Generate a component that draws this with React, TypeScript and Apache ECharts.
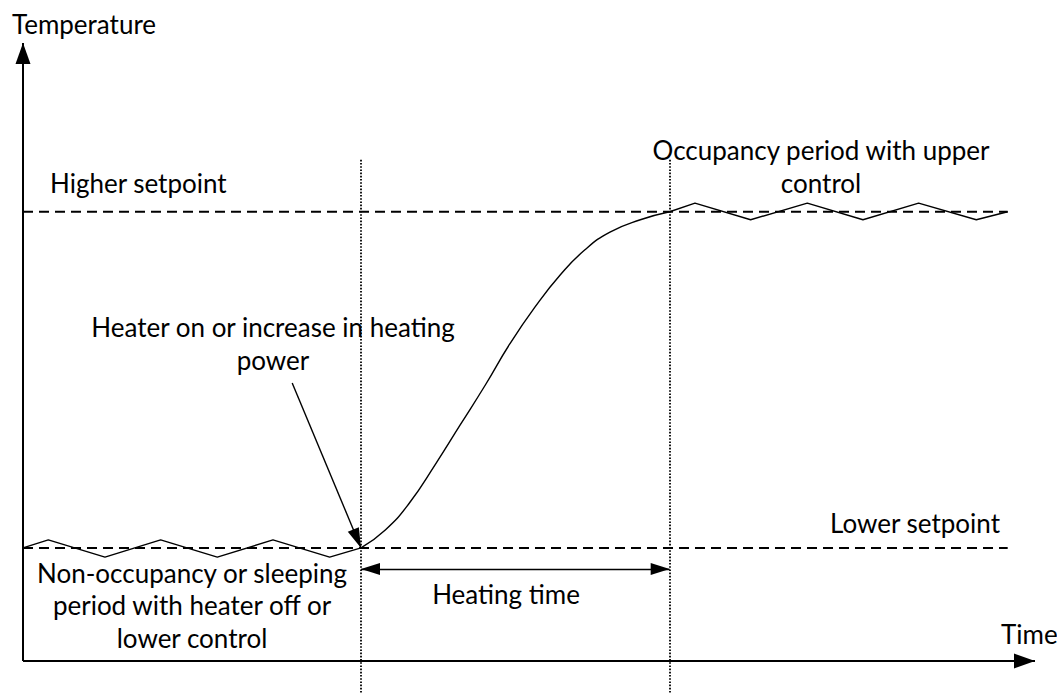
import React, { useEffect, useRef } from "react";
import * as echarts from "echarts";

// ---- data (time on x, temperature on y, arbitrary units 0..100) ----
const LOWER_SETPOINT = 18.3;
const HIGHER_SETPOINT = 72.7;
const HEAT_START = 33.4;
const HEAT_END = 63.9;
const SETPOINT_END = 97.3;

const lowZigTime = [0, 2.5, 8.1, 13.6, 19.2, 24.7, 30.3, 33.4];
const lowZigTemp = [18.3, 19.6, 16.8, 19.6, 16.8, 19.6, 16.8, 18.3];

const heatTime = [33.4, 35.8, 38.2, 40.7, 43.2, 45.7, 48.1, 50.6, 53.1, 55.5, 58.0, 61.0, 63.9];
const heatTemp = [18.3, 21.2, 25.6, 31.7, 38.2, 44.7, 51.3, 57.3, 62.5, 66.5, 69.4, 71.4, 72.7];

const highZigTime = [63.9, 66.4, 71.9, 77.5, 83.0, 88.5, 94.2, 97.3];
const highZigTemp = [72.7, 74.1, 71.4, 74.1, 71.4, 74.1, 71.4, 72.7];

const annotationFrom = [26.6, 45.0];
const heatingArrowTemp = 14.9;
const dottedTop = 81.1;

const axisTitles = ["Temperature", "Time"];
const labelHigher = "Higher setpoint";
const labelLower = "Lower setpoint";
const labelOccupancy = ["Occupancy period with upper", "control"];
const labelHeater = ["Heater on or increase in heating", "power"];
const labelNonOcc = ["Non-occupancy or sleeping", "period with heater off or", "lower control"];
const labelHeatingTime = "Heating time";

// ---- layout ----
const W = 1057;
const H = 693;
const ORIGIN_X = 23;
const ORIGIN_Y = 661;
const PX_PER_T = 10.12;
const PX_PER_V = 6.18;
const FONT = "Lato";
const FS = 26;

const pairs = (xs: number[], ys: number[]) => xs.map((x, i) => [x, ys[i]]);

export default function App() {
  const ref = useRef<HTMLDivElement>(null);
  useEffect(() => {
    if (!ref.current) return;
    const chart = echarts.init(ref.current, undefined, { renderer: "svg" });
    const xMin = -ORIGIN_X / PX_PER_T;
    const xMax = (W - ORIGIN_X) / PX_PER_T;
    const yMin = -(H - ORIGIN_Y) / PX_PER_V;
    const yMax = ORIGIN_Y / PX_PER_V;

    const arrowEnd = (size: number[]) => ({
      symbol: "triangle",
      symbolSize: size,
      symbolOffset: [0, size[1] / 2],
    });

    const text = (t: string, x: number, y: number, align: string = "left") => ({
      type: "text",
      x,
      y,
      style: {
        text: t,
        fill: "#000",
        font: `${FS}px ${FONT}`,
        align,
        verticalAlign: "middle",
      },
      silent: true,
    });

    const hidden = { show: false };
    chart.setOption({
      animation: false,
      backgroundColor: "#fff",
      grid: { left: 0, right: 0, top: 0, bottom: 0 },
      xAxis: {
        type: "value",
        min: xMin,
        max: xMax,
        axisLine: hidden,
        axisTick: hidden,
        axisLabel: hidden,
        splitLine: hidden,
      },
      yAxis: {
        type: "value",
        min: yMin,
        max: yMax,
        axisLine: hidden,
        axisTick: hidden,
        axisLabel: hidden,
        splitLine: hidden,
      },
      series: [
        {
          type: "line",
          name: "lower setpoint",
          data: [
            [0, LOWER_SETPOINT],
            [SETPOINT_END, LOWER_SETPOINT],
          ],
          symbol: "none",
          silent: true,
          lineStyle: { color: "#000", width: 2, type: [10, 6] },
          markLine: {
            silent: true,
            symbol: ["none", "none"],
            label: { show: false },
            lineStyle: { color: "#000", width: 2, type: "solid" },
            data: [
              [{ coord: [0, 0] }, { coord: [100, 0], ...arrowEnd([15, 21]) }],
              [{ coord: [0, 0] }, { coord: [0, 100], ...arrowEnd([15, 21]) }],
            ],
          },
        },
        {
          type: "line",
          name: "higher setpoint",
          data: [
            [0, HIGHER_SETPOINT],
            [SETPOINT_END, HIGHER_SETPOINT],
          ],
          symbol: "none",
          silent: true,
          lineStyle: { color: "#000", width: 2, type: [10, 6] },
          markLine: {
            silent: true,
            symbol: ["none", "none"],
            label: { show: false },
            lineStyle: { color: "#000", width: 1.8, type: [1.6, 1.6] },
            data: [
              [{ coord: [HEAT_START, dottedTop] }, { coord: [HEAT_START, yMin] }],
              [{ coord: [HEAT_END, dottedTop] }, { coord: [HEAT_END, yMin] }],
            ],
          },
        },
        {
          type: "line",
          name: "lower control",
          data: pairs(lowZigTime, lowZigTemp),
          symbol: "none",
          silent: true,
          lineStyle: { color: "#000", width: 1.4 },
        },
        {
          type: "line",
          name: "upper control",
          data: pairs(highZigTime, highZigTemp),
          symbol: "none",
          silent: true,
          lineStyle: { color: "#000", width: 1.4 },
        },
        {
          type: "line",
          name: "heating",
          data: pairs(heatTime, heatTemp),
          symbol: "none",
          smooth: 0.5,
          silent: true,
          lineStyle: { color: "#000", width: 1.4 },
          markLine: {
            silent: true,
            symbol: ["none", "none"],
            label: { show: false },
            lineStyle: { color: "#000", width: 1.4, type: "solid" },
            data: [
              [
                { coord: [HEAT_START, heatingArrowTemp], ...arrowEnd([12, 19]) },
                { coord: [HEAT_END, heatingArrowTemp], ...arrowEnd([12, 19]) },
              ],
              [
                { coord: annotationFrom },
                { coord: [HEAT_START, LOWER_SETPOINT], ...arrowEnd([12, 20]) },
              ],
            ],
          },
        },
      ],
      graphic: {
        elements: [
          text(axisTitles[0], 12, 24),
          text(axisTitles[1], 1001, 634),
          text(labelHigher, 50, 183),
          text(labelLower, 1000, 523, "right"),
          text(labelOccupancy[0], 821, 150, "center"),
          text(labelOccupancy[1], 821, 183, "center"),
          text(labelHeater[0], 273, 327, "center"),
          text(labelHeater[1], 273, 360, "center"),
          text(labelNonOcc[0], 192, 573, "center"),
          text(labelNonOcc[1], 192, 605, "center"),
          text(labelNonOcc[2], 192, 638, "center"),
          text(labelHeatingTime, 506, 594, "center"),
        ],
      },
    });
    return () => chart.dispose();
  }, []);
  return (
    <div
      ref={ref}
      style={{ position: "fixed", left: 0, top: 0, width: W, height: H, background: "#fff" }}
    />
  );
}
